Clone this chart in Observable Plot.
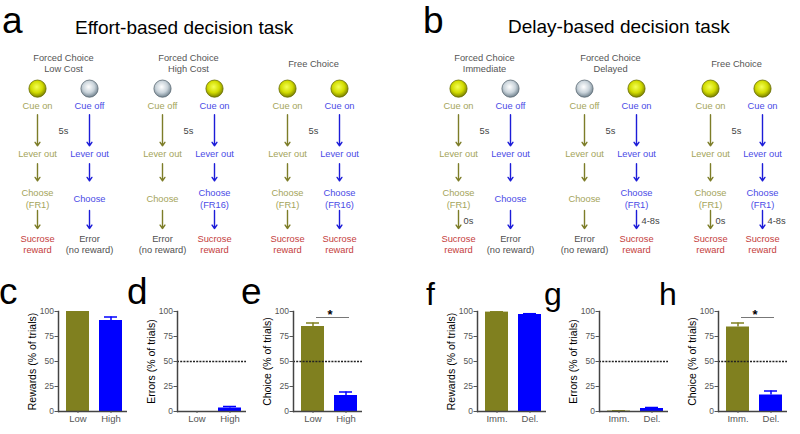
<!DOCTYPE html>
<html><head><meta charset="utf-8">
<script src="https://cdn.jsdelivr.net/npm/d3@7"></script>
<script src="https://cdn.jsdelivr.net/npm/@observablehq/plot@0.6"></script>
<style>
body{margin:0;background:#fff;}
#root{position:relative;width:800px;height:434px;overflow:hidden;background:#fff;font-family:"Liberation Sans",Arial,sans-serif;}
.abs{position:absolute;}
.letter{position:absolute;line-height:1;color:#000;white-space:nowrap;}
#root svg{background:transparent !important;overflow:visible;}
</style></head><body>
<svg width="0" height="0" style="position:absolute">
<defs>
<radialGradient id="cueOn" cx="45%" cy="40%" r="62%">
<stop offset="0" stop-color="#f4ff55"/><stop offset="0.55" stop-color="#d2dc00"/><stop offset="1" stop-color="#747a00"/>
</radialGradient>
<radialGradient id="cueOff" cx="45%" cy="40%" r="62%">
<stop offset="0" stop-color="#ffffff"/><stop offset="0.55" stop-color="#c9d3da"/><stop offset="1" stop-color="#6c7e8a"/>
</radialGradient>
</defs>
</svg>
<div id="root">
  <div class="letter" style="left:2px;top:1.5px;font-size:37px;">a</div>
  <div class="letter" style="left:75px;top:18px;width:200px;text-align:center;font-size:19px;">Effort-based decision task</div>
  <div class="letter" style="left:423px;top:1.5px;font-size:37px;">b</div>
  <div class="letter" style="left:508px;top:17px;width:200px;text-align:center;font-size:19px;">Delay-based decision task</div>
  <div id="diagA" class="abs" style="left:0;top:0;width:400px;height:270px;"></div>
  <div id="diagB" class="abs" style="left:400px;top:0;width:400px;height:270px;"></div>
  <div id="cC" class="abs" style="left:2px;top:290px;width:131px;height:145px;"></div>
  <div id="cD" class="abs" style="left:121px;top:290px;width:131px;height:145px;"></div>
  <div id="cE" class="abs" style="left:237px;top:290px;width:131px;height:145px;"></div>
  <div id="cF" class="abs" style="left:421px;top:290px;width:131px;height:145px;"></div>
  <div id="cG" class="abs" style="left:543px;top:290px;width:131px;height:145px;"></div>
  <div id="cH" class="abs" style="left:662px;top:290px;width:131px;height:145px;"></div>
  <div class="letter" style="left:-1px;top:272.5px;font-size:37px;">c</div>
  <div class="letter" style="left:127px;top:272.5px;font-size:37px;">d</div>
  <div class="letter" style="left:241px;top:272.5px;font-size:37px;">e</div>
  <div class="letter" style="left:426px;top:278px;font-size:32px;">f</div>
  <div class="letter" style="left:544px;top:278px;font-size:32px;">g</div>
  <div class="letter" style="left:659px;top:278px;font-size:32px;">h</div>
</div>
<script>
// ---------- diagram data ----------
const sides = ["left", "right"];
const cueDelay = "5s";
const leverLabel = "Lever out";
const cueOnLabel = "Cue on";
const cueOffLabel = "Cue off";
const rewardLabel = "Sucrose\nreward";
const errorLabel = "Error\n(no reward)";

const effortConditions = ["Forced Choice\nLow Cost", "Forced Choice\nHigh Cost", "Free Choice"];
const effortCue = [["on", "off"], ["off", "on"], ["on", "on"]];
const effortChoose = [["Choose\n(FR1)", "Choose"], ["Choose", "Choose\n(FR16)"], ["Choose\n(FR1)", "Choose\n(FR16)"]];
const effortOutcome = [["reward", "error"], ["error", "reward"], ["reward", "reward"]];
const effortRewardDelay = [["", ""], ["", ""], ["", ""]];

const delayConditions = ["Forced Choice\nImmediate", "Forced Choice\nDelayed", "Free Choice"];
const delayCue = [["on", "off"], ["off", "on"], ["on", "on"]];
const delayChoose = [["Choose\n(FR1)", "Choose"], ["Choose", "Choose\n(FR1)"], ["Choose\n(FR1)", "Choose\n(FR1)"]];
const delayOutcome = [["reward", "error"], ["error", "reward"], ["reward", "reward"]];
const delayRewardDelay = [["0s", ""], ["", "4-8s"], ["0s", "4-8s"]];

// ---------- bar chart data ----------
const effortCats = ["Low", "High"];
const delayCats = ["Imm.", "Del."];
const yTicks = [0, 25, 50, 75, 100];
const chanceLevel = 50;
const rewardsLabel = "Rewards (% of trials)";
const errorsLabel = "Errors (% of trials)";
const choiceLabel = "Choice (% of trials)";

const effortRewards = [100, 91];
const effortRewardsErr = [0, 3.5];
const effortErrors = [0, 3.5];
const effortErrorsErr = [0, 1.5];
const effortChoice = [85, 16];
const effortChoiceErr = [3.5, 3.5];

const delayRewards = [99.4, 97];
const delayRewardsErr = [0.3, 0.8];
const delayErrors = [0.5, 3];
const delayErrorsErr = [0.2, 1];
const delayChoice = [84.5, 16.5];
const delayChoiceErr = [4, 4];

const sigMark = "*";
const sigLevel = 94;

// ---------- styles ----------
const FONT = "Liberation Sans, Arial, sans-serif";
const olive = "#80801f", blue = "#0000ff";
const textCol = {left: "#a4a45a", right: "#4b4be6", reward: "#c43c3c", error: "#4f4f4f"};
const arrowCol = {left: "#7d7d28", right: "#1c1cd8"};

function buildNodes(conds, cue, choose, outcome) {
  const nodes = [];
  conds.forEach((c, i) => sides.forEach((s, j) => {
    nodes.push({cond: c, side: s, step: 1, kind: "cue", state: cue[i][j], label: cue[i][j] === "on" ? cueOnLabel : cueOffLabel});
    nodes.push({cond: c, side: s, step: 2, kind: "lever", label: leverLabel});
    nodes.push({cond: c, side: s, step: 3, kind: "choose", label: choose[i][j]});
    nodes.push({cond: c, side: s, step: 4, kind: outcome[i][j], label: outcome[i][j] === "reward" ? rewardLabel : errorLabel});
  }));
  return nodes;
}
function buildArrows(conds) {
  const arr = [];
  conds.forEach(c => sides.forEach(s => [1, 2, 3].forEach(k => arr.push({cond: c, side: s, from: k, to: k + 1}))));
  return arr;
}
function buildDelays(conds, delays) {
  const out = [];
  conds.forEach((c, i) => sides.forEach((s, j) => { if (delays[i][j]) out.push({cond: c, side: s, label: delays[i][j]}); }));
  return out;
}

const segInsets = {1: [6.5, 7.5], 2: [10.5, 17.5], 3: [12, 15]};

function diagram(conds, nodes, arrows, delays, xr) {
  const marks = [];
  marks.push(Plot.text(conds, {x: d => d, y: () => 0, text: d => d, fill: "#555", fontSize: 9.3, lineHeight: 1.2}));
  marks.push(Plot.text(conds, {x: d => d, y: () => 1.5, text: () => cueDelay, fill: "#444", fontSize: 9.3}));
  for (const [side, off] of [["left", -26], ["right", 26]]) {
    const sn = nodes.filter(d => d.side === side);
    marks.push(Plot.dot(sn.filter(d => d.kind === "cue" && d.state === "on"), {x: "cond", y: "step", dx: off, dy: -19.5, r: 8.6, fill: "url(#cueOn)", stroke: "#6a6e00", strokeWidth: 0.8}));
    marks.push(Plot.dot(sn.filter(d => d.kind === "cue" && d.state === "off"), {x: "cond", y: "step", dx: off, dy: -19.5, r: 8.6, fill: "url(#cueOff)", stroke: "#5d6b75", strokeWidth: 0.8}));
    marks.push(Plot.text(sn.filter(d => d.kind === "cue"), {x: "cond", y: "step", dx: off, dy: -2, text: "label", fill: textCol[side], fontSize: 9.3}));
    marks.push(Plot.text(sn.filter(d => d.kind !== "cue"), {x: "cond", y: "step", dx: off, text: "label", lineHeight: 1.2, fontSize: 9.3,
      fill: d => d.kind === "reward" ? textCol.reward : d.kind === "error" ? textCol.error : textCol[side]}));
    for (const k of [1, 2, 3]) {
      marks.push(Plot.arrow(arrows.filter(d => d.side === side && d.from === k), {
        x1: "cond", x2: "cond", y1: "from", y2: "to", dx: off,
        stroke: arrowCol[side], strokeWidth: 1.4, headLength: 4.5, headAngle: 70,
        insetStart: segInsets[k][0], insetEnd: segInsets[k][1]
      }));
    }
    marks.push(Plot.text(delays.filter(d => d.side === side), {x: "cond", y: () => 3.5, dx: off + 5, text: "label", textAnchor: "start", fill: "#444", fontSize: 9.3}));
  }
  return Plot.plot({
    width: 400, height: 270,
    x: {type: "point", domain: conds, range: xr, padding: 0, axis: null},
    y: {domain: [0, 4], range: [62.5, 243], axis: null},
    color: {type: "identity"},
    style: {fontFamily: FONT, background: "transparent", overflow: "visible"},
    marks
  });
}

function barChart(cats, values, errs, label, chance, sig) {
  const data = cats.map((c, i) => ({cat: c, value: values[i], err: errs[i]}));
  const withErr = data.filter(d => d.err > 0);
  const marks = [
    Plot.barY(data, {x: "cat", y: "value", fill: "cat"}),
    Plot.ruleX(withErr, {x: "cat", y1: "value", y2: d => d.value + d.err, stroke: "cat", strokeWidth: 1.5}),
    Plot.tickY(withErr, {x: "cat", y: d => d.value + d.err, stroke: "cat", strokeWidth: 1.5, insetLeft: 5, insetRight: 5})
  ];
  if (chance != null) marks.push(Plot.ruleY([chance], {stroke: "#222", strokeWidth: 1.4, strokeDasharray: "2,1.2"}));
  if (sig) {
    marks.push(Plot.link([sigLevel], {x1: () => cats[0], x2: () => cats[1], y1: d => d, y2: d => d, stroke: "#777", strokeWidth: 1, dx: 3}));
    marks.push(Plot.text([sigMark], {y: () => sigLevel, dy: -3, dx: 2, text: d => d, fontSize: 13, fontWeight: "bold", fill: "#000"}));
  }
  marks.push(Plot.ruleY([0], {stroke: "#444", strokeWidth: 1.5}));
  marks.push(Plot.frame({anchor: "left", stroke: "#444", strokeWidth: 1.5}));
  marks.push(Plot.axisY({ticks: yTicks, tickSize: 3.5, tickPadding: 1, fontSize: 8.5, color: "#555", label: null}));
  marks.push(Plot.axisY({ticks: [], tickSize: 0, label, labelAnchor: "center", labelOffset: 30, labelArrow: "none", fontSize: 10.5, color: "#000"}));
  marks.push(Plot.axisX({tickSize: 2, tickPadding: 2, fontSize: 9.5, color: "#555", label: null}));
  return Plot.plot({
    width: 131, height: 145, marginLeft: 56, marginRight: 6, marginTop: 21, marginBottom: 24,
    x: {type: "band", domain: cats, paddingInner: 0.3, paddingOuter: 0.17, align: 0.6},
    y: {domain: [0, 100]},
    color: {domain: cats, range: [olive, blue]},
    style: {fontFamily: FONT, background: "transparent", overflow: "visible"},
    marks
  });
}

document.getElementById("diagA").append(diagram(effortConditions,
  buildNodes(effortConditions, effortCue, effortChoose, effortOutcome),
  buildArrows(effortConditions), buildDelays(effortConditions, effortRewardDelay), [62, 313]));
document.getElementById("diagB").append(diagram(delayConditions,
  buildNodes(delayConditions, delayCue, delayChoose, delayOutcome),
  buildArrows(delayConditions), buildDelays(delayConditions, delayRewardDelay), [84, 336]));

document.getElementById("cC").append(barChart(effortCats, effortRewards, effortRewardsErr, rewardsLabel, null, false));
document.getElementById("cD").append(barChart(effortCats, effortErrors, effortErrorsErr, errorsLabel, chanceLevel, false));
document.getElementById("cE").append(barChart(effortCats, effortChoice, effortChoiceErr, choiceLabel, chanceLevel, true));
document.getElementById("cF").append(barChart(delayCats, delayRewards, delayRewardsErr, rewardsLabel, null, false));
document.getElementById("cG").append(barChart(delayCats, delayErrors, delayErrorsErr, errorsLabel, chanceLevel, false));
document.getElementById("cH").append(barChart(delayCats, delayChoice, delayChoiceErr, choiceLabel, chanceLevel, true));
</script>
</body></html>
